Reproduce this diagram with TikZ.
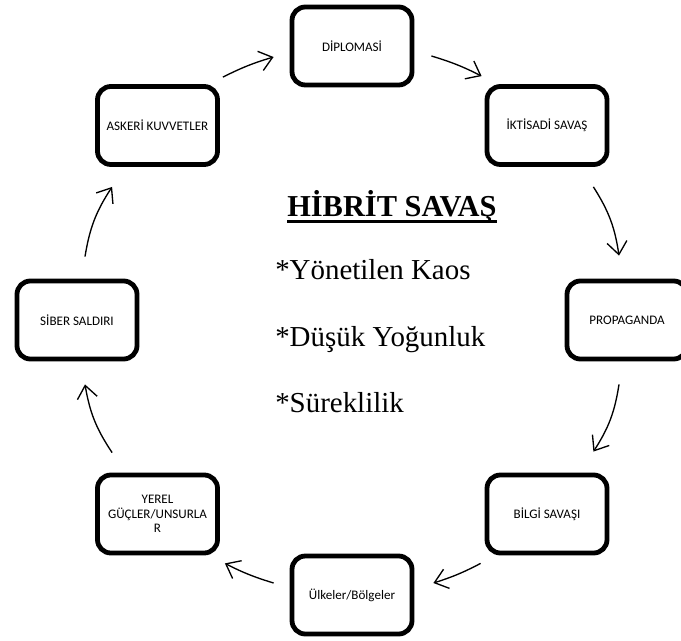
\documentclass[tikz,border=0pt]{standalone}
\usepackage{fontspec}
\setmainfont{Liberation Serif}
\newfontfamily\kutufont{Carlito}
\usetikzlibrary{arrows.meta}
\tikzset{
	kutu/.style={draw, line width=3.6pt, rounded corners=10pt, minimum width=90pt, minimum height=58.5pt, inner sep=1pt, align=center, font=\kutufont\fontsize{9.8}{11}\selectfont},
	ok/.style={-{Straight Barb[length=9.5pt,width=15pt]}, line width=1pt},
	madde/.style={anchor=base west, inner sep=0pt, font=\fontsize{21.7}{25}\selectfont},
}
\begin{document}
\begin{tikzpicture}[x=0.75pt,y=-0.75pt]
	\useasboundingbox (0,0) rectangle (681,641);
	% kutular
	\node[kutu] (diplomasi) at (352,46) {DİPLOMASİ};
	\node[kutu] (iktisadi) at (547,125.5) {İKTİSADİ SAVAŞ};
	\node[kutu] (propaganda) at (627,320) {PROPAGANDA};
	\node[kutu] (bilgi) at (547,514) {BİLGİ SAVAŞI};
	\node[kutu] (ulkeler) at (352,595) {Ülkeler/Bölgeler};
	\node[kutu] (yerel) at (157.5,514) {YEREL\\GÜÇLER/UNSURLA\\R};
	\node[kutu] (siber) at (77,320) {SİBER SALDIRI};
	\node[kutu] (askeri) at (157.5,125.5) {ASKERİ KUVVETLER};
	% orta yazi
	\node[anchor=base west, inner sep=0pt, font=\fontsize{22.8}{26}\selectfont\bfseries] (baslik) at (287,217) {HİBRİT SAVAŞ};
	\draw[line width=2pt] ([yshift=-3.5pt]baslik.base west) -- ([yshift=-3.5pt]baslik.base east);
	\node[madde] (kaos) at (275,280) {*Yönetilen Kaos};
	\node[madde] (yogunluk) at (275,346) {*Düşük Yoğunluk};
	\node[madde] (sureklilik) at (275,412) {*Süreklilik};
	% oklar
	\draw[ok] ([shift={(3,-7)}]askeri.north east) to[bend left=5] ([shift={(-16,11)}]diplomasi.west);
	\draw[ok] ([shift={(17,10)}]diplomasi.east) to[bend left=5] ([shift={(-3,-8)}]iktisadi.north west);
	\draw[ok] ([shift={(-16,20)}]iktisadi.south east) to[bend left=12] ([shift={(-8,-23)}]propaganda.north);
	\draw[ok] ([shift={(-8,23)}]propaganda.south) to[bend left=12] ([shift={(-16,-21)}]bilgi.north east);
	\draw[ok] ([shift={(-4,8)}]bilgi.south west) to[bend left=5] ([shift={(19,-12)}]ulkeler.east);
	\draw[ok] ([shift={(-16,-12)}]ulkeler.west) to[bend left=5] ([shift={(5,8)}]yerel.south east);
	\draw[ok] ([shift={(17,-20)}]yerel.north west) to[bend left=12] ([shift={(8,23)}]siber.south);
	\draw[ok] ([shift={(8,-22)}]siber.north) to[bend left=12] ([shift={(17,20)}]askeri.south west);
\end{tikzpicture}
\end{document}
